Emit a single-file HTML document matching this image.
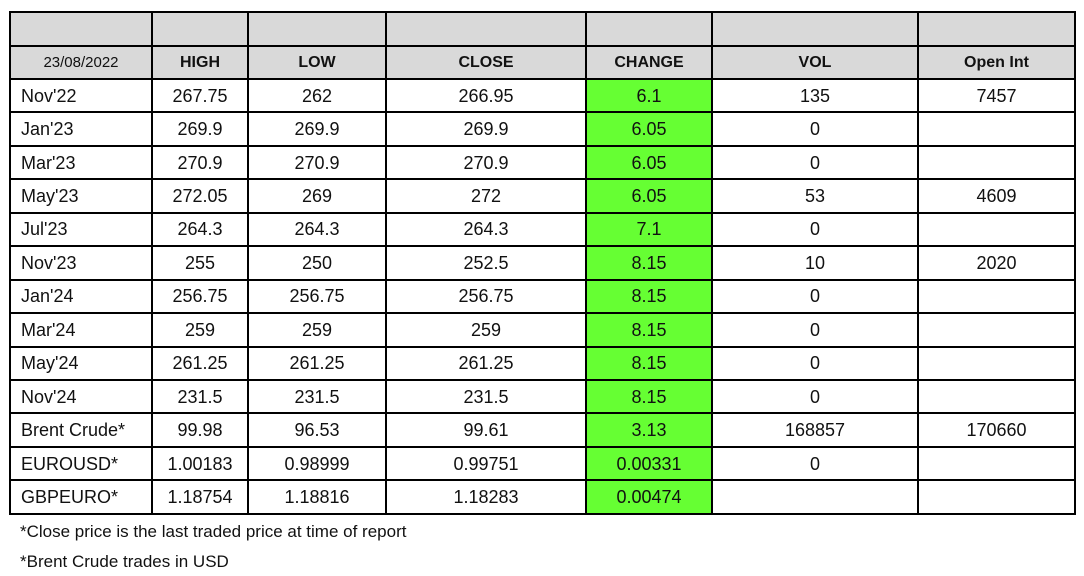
<!DOCTYPE html>
<html><head><meta charset="utf-8"><style>
body{margin:0;width:1084px;height:576px;background:#fff;overflow:hidden;font-family:"Liberation Sans",Arial,sans-serif;}
table{position:absolute;left:9px;top:11px;border-collapse:collapse;table-layout:fixed;width:1065px;}
td{border:2px solid #000;padding:0;text-align:center;font-size:18px;color:#111;height:31.45px;line-height:20px;white-space:nowrap;overflow:hidden;}
tr.h td{background:#d9d9d9;}
tr.h1 td{height:32px;}
tr.h2 td{height:31px;font-weight:bold;font-size:16px;}
tr.h2 td.d{font-weight:normal;font-size:15px;}
td.l{text-align:left;padding-left:10px;}
td.g{background:#66ff33;}
.f{position:absolute;left:20px;font-size:17px;color:#111;}
</style></head><body>
<table>
<colgroup><col style="width:142px"><col style="width:96px"><col style="width:138px"><col style="width:200px"><col style="width:126px"><col style="width:206px"><col style="width:157px"></colgroup>
<tr class="h h1"><td></td><td></td><td></td><td></td><td></td><td></td><td></td></tr>
<tr class="h h2"><td class="d">23/08/2022</td><td>HIGH</td><td>LOW</td><td>CLOSE</td><td>CHANGE</td><td>VOL</td><td>Open Int</td></tr>
<tr><td class="l">Nov'22</td><td>267.75</td><td>262</td><td>266.95</td><td class="g">6.1</td><td>135</td><td>7457</td></tr>
<tr><td class="l">Jan'23</td><td>269.9</td><td>269.9</td><td>269.9</td><td class="g">6.05</td><td>0</td><td></td></tr>
<tr><td class="l">Mar'23</td><td>270.9</td><td>270.9</td><td>270.9</td><td class="g">6.05</td><td>0</td><td></td></tr>
<tr><td class="l">May'23</td><td>272.05</td><td>269</td><td>272</td><td class="g">6.05</td><td>53</td><td>4609</td></tr>
<tr><td class="l">Jul'23</td><td>264.3</td><td>264.3</td><td>264.3</td><td class="g">7.1</td><td>0</td><td></td></tr>
<tr><td class="l">Nov'23</td><td>255</td><td>250</td><td>252.5</td><td class="g">8.15</td><td>10</td><td>2020</td></tr>
<tr><td class="l">Jan'24</td><td>256.75</td><td>256.75</td><td>256.75</td><td class="g">8.15</td><td>0</td><td></td></tr>
<tr><td class="l">Mar'24</td><td>259</td><td>259</td><td>259</td><td class="g">8.15</td><td>0</td><td></td></tr>
<tr><td class="l">May'24</td><td>261.25</td><td>261.25</td><td>261.25</td><td class="g">8.15</td><td>0</td><td></td></tr>
<tr><td class="l">Nov'24</td><td>231.5</td><td>231.5</td><td>231.5</td><td class="g">8.15</td><td>0</td><td></td></tr>
<tr><td class="l">Brent Crude*</td><td>99.98</td><td>96.53</td><td>99.61</td><td class="g">3.13</td><td>168857</td><td>170660</td></tr>
<tr><td class="l">EUROUSD*</td><td>1.00183</td><td>0.98999</td><td>0.99751</td><td class="g">0.00331</td><td>0</td><td></td></tr>
<tr><td class="l">GBPEURO*</td><td>1.18754</td><td>1.18816</td><td>1.18283</td><td class="g">0.00474</td><td></td><td></td></tr>
</table>
<div class="f" style="top:522px">*Close price is the last traded price at time of report</div>
<div class="f" style="top:552px">*Brent Crude trades in USD</div>
</body></html>
